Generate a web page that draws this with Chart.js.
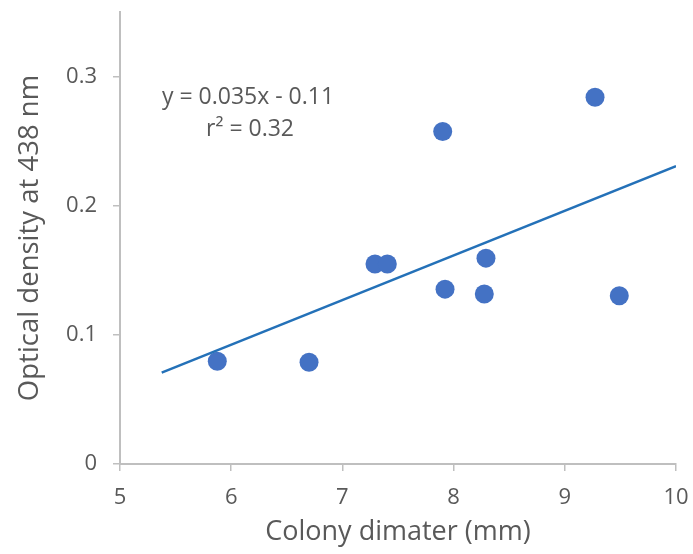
<!DOCTYPE html>
<html>
<head>
<meta charset="utf-8">
<script src="https://cdn.jsdelivr.net/npm/chart.js@4.4.1/dist/chart.umd.min.js"></script>
<style>
  html, body { margin: 0; padding: 0; background: #ffffff; }
  #wrap { width: 693px; height: 554px; position: relative; }
</style>
</head>
<body>
<div id="wrap"><canvas id="c" width="693" height="554"></canvas></div>
<script>
// Data
const colonyDiameter = [5.875, 6.70, 7.293, 7.404, 7.902, 7.923, 8.291, 8.276, 9.272, 9.490];
const opticalDensity = [0.0795, 0.0788, 0.1548, 0.1548, 0.2575, 0.1354, 0.1594, 0.1316, 0.284, 0.1303];
const trendX = [5.375, 10];
const trendY = [0.0708, 0.2307];
const yTickValues = [0, 0.1, 0.2, 0.3];
const equationLines = ['y = 0.035x - 0.11', 'r\u00B2 = 0.32'];

const FONT = "'Open Sans', 'Noto Sans', sans-serif";
const GREY_TEXT = '#595959';
const AXIS_GREY = '#bfbfbf';

const points = colonyDiameter.map((x, i) => ({ x: x, y: opticalDensity[i] }));
const trend = trendX.map((x, i) => ({ x: x, y: trendY[i] }));

const equationPlugin = {
  id: 'equation',
  afterDatasetsDraw(chart) {
    const ctx = chart.ctx;
    ctx.save();
    ctx.fillStyle = GREY_TEXT;
    ctx.font = "23px " + FONT;
    ctx.textAlign = 'center';
    ctx.textBaseline = 'middle';
    ctx.fillText(equationLines[0], 248, 97);
    ctx.fillText(equationLines[1], 250, 129);
    ctx.restore();
  }
};

new Chart(document.getElementById('c'), {
  type: 'scatter',
  data: {
    datasets: [
      {
        type: 'line',
        data: trend,
        borderColor: '#2471b8',
        borderWidth: 2.5,
        pointRadius: 0,
        fill: false,
        order: 0
      },
      {
        data: points,
        backgroundColor: '#4472c4',
        borderColor: '#4472c4',
        pointRadius: 9.5,
        pointHoverRadius: 9.5,
        borderWidth: 0,
        order: 1
      }
    ]
  },
  options: {
    responsive: false,
    animation: false,
    events: [],
    layout: { padding: { top: 12, right: 17, bottom: 5, left: 14 } },
    plugins: { legend: { display: false }, tooltip: { enabled: false } },
    scales: {
      x: {
        type: 'linear',
        min: 5,
        max: 10,
        afterFit(scale) { scale.height = 85; scale.paddingLeft = 0; scale.paddingRight = 0; },
        ticks: { stepSize: 1, color: GREY_TEXT, font: { family: FONT, size: 22 }, padding: 14 },
        grid: { display: true, drawOnChartArea: false, drawTicks: true, tickLength: 7, color: AXIS_GREY, lineWidth: 1.5 },
        border: { display: true, color: AXIS_GREY, width: 2 },
        title: { display: true, text: 'Colony dimater (mm)', color: GREY_TEXT, font: { family: FONT, size: 27 }, padding: 0 }
      },
      y: {
        type: 'linear',
        min: 0,
        max: 0.35,
        afterFit(scale) { scale.width = 106; scale.paddingTop = 0; scale.paddingBottom = 0; },
        afterBuildTicks(scale) { scale.ticks = yTickValues.map(v => ({ value: v })); },
        ticks: { color: GREY_TEXT, font: { family: FONT, size: 22 }, padding: 16,
                 callback: v => String(Math.round(v * 10) / 10) },
        grid: { display: true, drawOnChartArea: false, drawTicks: true, tickLength: 7, color: AXIS_GREY, lineWidth: 1.5 },
        border: { display: true, color: AXIS_GREY, width: 2 },
        title: { display: true, text: 'Optical density at 438 nm', color: GREY_TEXT, font: { family: FONT, size: 27.5 }, padding: 0 }
      }
    }
  },
  plugins: [equationPlugin]
});
</script>
</body>
</html>
